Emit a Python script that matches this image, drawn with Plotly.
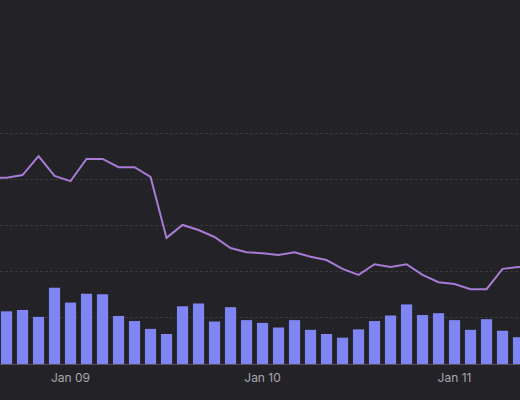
import pandas as pd
import plotly.graph_objects as go

# ---------------- data (2-hour buckets) ----------------
bar_times = pd.date_range('2024-01-08 16:00', periods=33, freq='2h')
volume = [11.4, 11.7, 10.2, 16.5, 13.3, 15.2, 15.1, 10.4, 9.3, 7.6, 6.5,
          12.5, 13.1, 9.2, 12.3, 9.5, 8.9, 7.9, 9.5, 7.4, 6.5, 5.7, 7.5,
          9.3, 10.5, 12.9, 10.6, 11.0, 9.5, 7.4, 9.7, 7.2, 5.8]

line_times = pd.date_range('2024-01-08 14:00', periods=35, freq='2h')
price = [40.3, 40.3, 40.9, 45.0, 40.7, 39.6, 44.4, 44.4, 42.6, 42.6, 40.5,
         27.3, 30.1, 29.0, 27.5, 25.1, 24.2, 24.0, 23.6, 24.2, 23.2, 22.5,
         20.6, 19.3, 21.6, 21.0, 21.6, 19.3, 17.7, 17.3, 16.2, 16.2, 20.6,
         21.0, 21.0]

tick_vals = pd.to_datetime(['2024-01-09', '2024-01-10', '2024-01-11'])
tick_text = ['Jan 09', 'Jan 10', 'Jan 11']
grid_vals = [0, 10, 20, 30, 40, 50]

# ---------------- figure ----------------
bg = '#232227'
fig = go.Figure()
fig.add_trace(go.Bar(x=bar_times, y=volume, marker=dict(color='#7f86f4', line=dict(width=0)),
                     name='Volume'))
fig.add_trace(go.Scatter(x=line_times, y=price, mode='lines',
                         line=dict(color='#a77bd6', width=2), name='Price'))

fig.update_layout(
    width=520, height=400,
    paper_bgcolor=bg, plot_bgcolor=bg,
    margin=dict(l=0, r=0, t=0, b=36),
    showlegend=False,
    bargap=0.3,
    font=dict(family='Inter, Lato, sans-serif', color='#a7a7ae', size=12),
)
fig.update_xaxes(
    range=[pd.Timestamp('2024-01-08 15:11'), pd.Timestamp('2024-01-11 08:11')],
    tickvals=tick_vals, ticktext=tick_text,
    showgrid=False, zeroline=False,
    showline=True, linecolor='#55545a', linewidth=1,
    ticks='', ticklabelstandoff=3,
)
fig.update_yaxes(
    range=[0, 78.8], tickvals=grid_vals, showticklabels=False,
    showgrid=True, gridcolor='#38373d', griddash='3px,2px', gridwidth=1,
    zeroline=False,
)

# no white page border around the figure, no modebar
fig.write_html('out.html', config={'displayModeBar': False},
               post_script="document.body.style.margin='0';"
               "document.body.style.background='%s';" % bg)
